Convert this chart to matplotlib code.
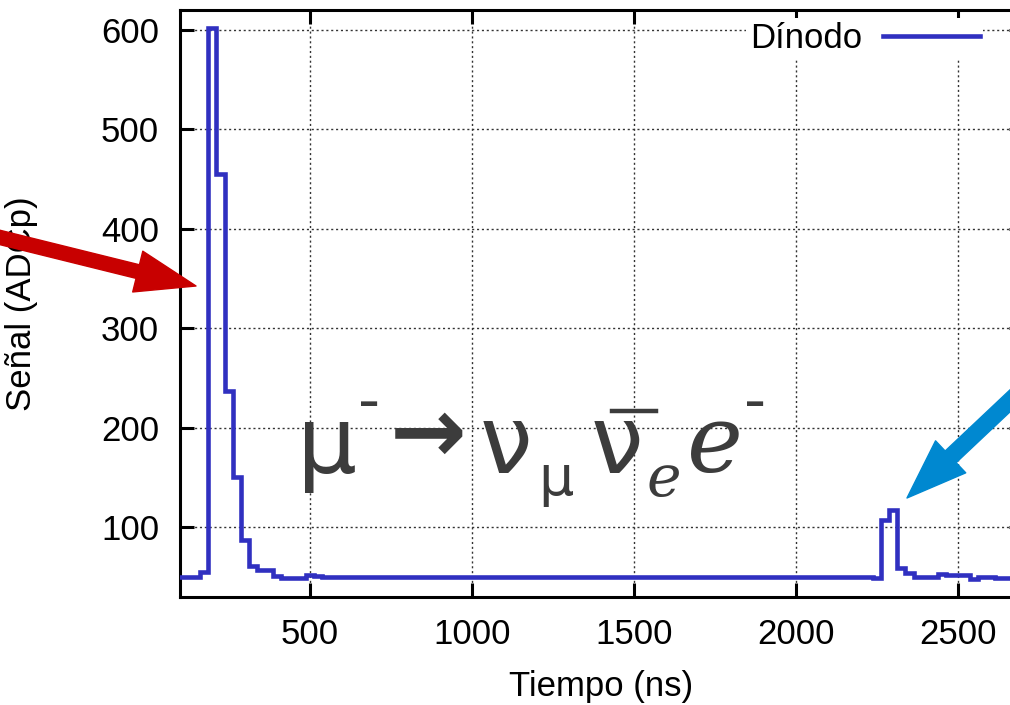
import numpy as np
import matplotlib
matplotlib.use("Agg")
import matplotlib.pyplot as plt
from matplotlib.patches import FancyArrowPatch
from matplotlib.lines import Line2D
from matplotlib.transforms import IdentityTransform

# centros de los bins (ns), ancho 25 ns
tiempo = np.arange(100, 2701, 25)

# señal del dínodo (ADCp)
senal = [
    50, 50, 50, 55, 602, 455, 237, 151, 87, 61,
    57, 57, 51, 49, 49, 49, 52, 51, 50, 50,
    50, 50, 50, 50, 50, 50, 50, 50, 50, 50,
    50, 50, 50, 50, 50, 50, 50, 50, 50, 50,
    50, 50, 50, 50, 50, 50, 50, 50, 50, 50,
    50, 50, 50, 50, 50, 50, 50, 50, 50, 50,
    50, 50, 50, 50, 50, 50, 50, 50, 50, 50,
    50, 50, 50, 50, 50, 50, 50, 50, 50, 50,
    50, 50, 50, 50, 50, 50, 49, 107, 117, 59,
    54, 50, 50, 50, 53, 52, 52, 52, 48, 50,
    50, 49, 49, 49, 49,
]

xticks = [500, 1000, 1500, 2000, 2500]
yticks = [100, 200, 300, 400, 500, 600]

W, H = 1010, 705
fuente = "Liberation Sans"
tam = 25

fig = plt.figure(figsize=(W / 100, H / 100), dpi=100)
ax = fig.add_axes([180 / W, 1 - 597 / H, 843 / W, 587 / H])

ax.step(tiempo, senal, where="mid", color="#3030c0", lw=3.3,
        solid_joinstyle="miter", label="Dínodo", zorder=3)

ax.set_xlim(100, 2700)
ax.set_ylim(30, 620)
ax.set_xticks(xticks)
ax.set_yticks(yticks)
ax.grid(True, color="#333333", lw=1.0, ls=(0, (1.5, 2)))
ax.set_axisbelow(True)
ax.tick_params(direction="in", length=10, width=2.2, top=True, right=True,
               labelsize=tam, pad=15)
for lab in ax.get_xticklabels() + ax.get_yticklabels():
    lab.set_family(fuente)
for s in ax.spines.values():
    s.set_linewidth(2.2)

ax.set_xlabel("Tiempo (ns)", fontsize=tam, family=fuente)
ax.xaxis.set_label_coords(0.5, -0.125)
ax.set_ylabel("Señal (ADCp)", fontsize=tam, family=fuente)
ax.yaxis.set_label_coords(-0.168, 0.5)

leg = ax.legend(loc="upper right", bbox_to_anchor=(0.953, 0.986),
                markerfirst=False, handlelength=2.8, handletextpad=0.6,
                borderpad=0.1, borderaxespad=0, fancybox=False,
                prop={"family": fuente, "size": tam})
leg.get_frame().set_edgecolor("none")
leg.get_frame().set_facecolor("white")
leg.get_frame().set_alpha(1)


def px(x, y):
    return x / W, 1 - y / H


gris = "#3c3c3c"
# formula de la desintegración del muón
fig.text(*px(327, 473), "μ", fontsize=68, family="DejaVu Sans", color=gris,
         ha="center", va="baseline")
fig.text(*px(369, 403), "-", fontsize=44, family="DejaVu Sans", color=gris,
         ha="center", va="center")
fig.text(*px(428, 436), "→", fontsize=66, family="DejaVu Sans",
         fontweight="bold", color=gris, ha="center", va="center")
fig.text(*px(506, 473), "ν", fontsize=68, family="DejaVu Sans", color=gris,
         ha="center", va="baseline")
fig.text(*px(556, 495), "μ", fontsize=40, family="DejaVu Sans", color=gris,
         ha="center", va="baseline")
fig.text(*px(617, 473), "ν", fontsize=68, family="DejaVu Sans", color=gris,
         ha="center", va="baseline")
fig.add_artist(Line2D([612, 656], [H - 410.5, H - 410.5], color=gris, lw=3.2,
                      transform=IdentityTransform()))
fig.text(*px(664, 496), "e", fontsize=42, family="DejaVu Serif",
         style="italic", color=gris, ha="center", va="baseline")
fig.text(*px(715, 472), "e", fontsize=68, family="DejaVu Serif",
         style="italic", color=gris, ha="center", va="baseline")
fig.text(*px(755, 403), "-", fontsize=44, family="DejaVu Sans", color=gris,
         ha="center", va="center")

# flechas
roja = FancyArrowPatch((-20, H - 232.5), (196, H - 286),
                       arrowstyle="simple,head_length=0.6,head_width=0.42,tail_width=0.14",
                       mutation_scale=72, color="#c80000", shrinkA=0, shrinkB=0,
                       transform=IdentityTransform())
azul = FancyArrowPatch((1030, H - 382), (907, H - 498),
                       arrowstyle="simple,head_length=0.6,head_width=0.44,tail_width=0.16",
                       mutation_scale=72, color="#0088d0", shrinkA=0, shrinkB=0,
                       transform=IdentityTransform())
fig.add_artist(roja)
fig.add_artist(azul)

fig.savefig("out.png", dpi=100)
